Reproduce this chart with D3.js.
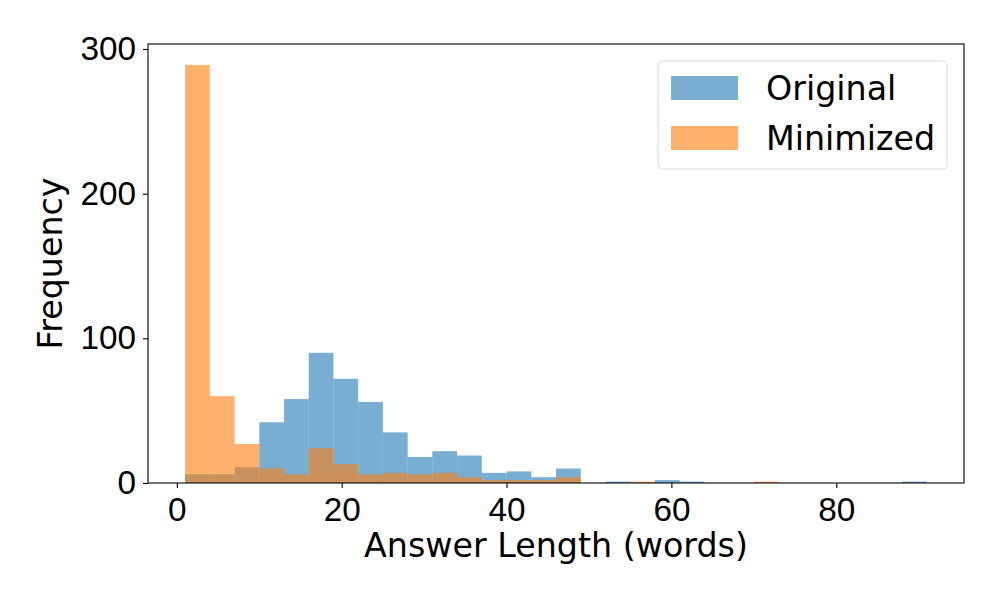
<!DOCTYPE html>
<html>
<head>
<meta charset="utf-8">
<script src="https://cdn.jsdelivr.net/npm/d3@7"></script>
<style>
    body { margin: 0; background: #fff; }
    svg { font-family: 'DejaVu Sans', sans-serif; }
</style>
</head>
<body>
<div id="chart"></div>
<script>
//Datos del histograma (bins compartidos de 3 palabras)
const binEdges = [1, 4, 7, 10, 13, 16, 19, 22, 25, 28, 31, 34, 37, 40, 43, 46, 49, 52, 55, 58, 61, 64, 67, 70, 73, 76, 79, 82, 85, 88, 91];
const originalCounts = [6, 6, 11, 42, 58, 90, 72, 56, 35, 18, 22, 19, 7, 8, 4, 10, 0, 1, 0, 2, 1, 0, 0, 0, 0, 0, 0, 0, 0, 1];
const minimizedCounts = [289, 60, 27, 10, 6, 24, 13, 6, 7, 6, 7, 4, 2, 2, 2, 4, 0, 0, 1, 0, 0, 0, 0, 1, 0, 0, 0, 0, 0, 0];
const seriesNames = ['Original', 'Minimized'];
const xTicks = [0, 20, 40, 60, 80];
const yTicks = [0, 100, 200, 300];

//Colores fijos (tab10 con alpha 0.6)
const COLOR_BLUE = '#1f77b4',
COLOR_ORANGE = '#ff7f0e';
const BAR_OPACITY = 0.6;
const FONT_SIZE = '33.3px';

let width = 1000,
    height = 600;
let margin = { top: 44, right: 36, bottom: 117, left: 148 };
let innerW = width - margin.left - margin.right,
    innerH = height - margin.top - margin.bottom;

let svg = d3.select('#chart')
    .append('svg')
        .attr('width', width)
        .attr('height', height);

let chart = svg.append('g')
    .attr('transform', 'translate(' + margin.left + ',' + margin.top + ')');

//Escalas con el margen del 5% como matplotlib
let xMin = binEdges[0], xMax = binEdges[binEdges.length - 1];
let xPad = (xMax - xMin) * 0.05;
let x = d3.scaleLinear()
    .domain([xMin - xPad, xMax + xPad])
    .range([0, innerW]);

let yMax = d3.max(originalCounts.concat(minimizedCounts)) * 1.05;
let y = d3.scaleLinear()
    .domain([0, yMax])
    .range([innerH, 0]);

function toBins(counts) {
    return counts.map(function(c, i) {
        return { x0: binEdges[i], x1: binEdges[i + 1], value: c };
    }).filter(function(d) { return d.value > 0; });
}

let series = [
    { name: seriesNames[0], color: COLOR_BLUE, bins: toBins(originalCounts) },
    { name: seriesNames[1], color: COLOR_ORANGE, bins: toBins(minimizedCounts) }
];

series.forEach(function(s) {
    chart.append('g')
        .selectAll('rect')
        .data(s.bins)
        .enter()
        .append('rect')
        .attr('x', function(d) { return x(d.x0); })
        .attr('width', function(d) { return x(d.x1) - x(d.x0); })
        .attr('y', function(d) { return y(d.value); })
        .attr('height', function(d) { return y(0) - y(d.value); })
        .attr('fill', s.color)
        .attr('fill-opacity', BAR_OPACITY);
});

//Ejes
let xAxis = chart.append('g')
    .attr('transform', 'translate(0,' + innerH + ')')
    .call(d3.axisBottom(x).tickValues(xTicks).tickSize(5).tickPadding(7).tickFormat(d3.format('d')));

let yAxis = chart.append('g')
    .call(d3.axisLeft(y).tickValues(yTicks).tickSize(5).tickPadding(7).tickFormat(d3.format('d')));

[xAxis, yAxis].forEach(function(a) {
    a.select('.domain').remove();
    a.selectAll('line').attr('stroke', '#000').attr('stroke-width', 1.1);
    a.selectAll('text').attr('fill', '#000').style('font-size', FONT_SIZE);
});
xAxis.selectAll('text').attr('dy', '0.78em');

//Marco
chart.append('rect')
    .attr('width', innerW)
    .attr('height', innerH)
    .attr('fill', 'none')
    .attr('stroke', '#000')
    .attr('stroke-width', 1.1);

//Títulos de los ejes
svg.append('text')
    .attr('x', margin.left + innerW / 2)
    .attr('y', 557)
    .attr('text-anchor', 'middle')
    .style('font-size', FONT_SIZE)
    .text('Answer Length (words)');

svg.append('text')
    .attr('transform', 'translate(62,' + (margin.top + innerH / 2) + ') rotate(-90)')
    .attr('text-anchor', 'middle')
    .style('font-size', FONT_SIZE)
    .text('Frequency');

//Leyenda
let legend = svg.append('g')
    .attr('transform', 'translate(658,61)');

legend.append('rect')
    .attr('width', 289)
    .attr('height', 108)
    .attr('rx', 4)
    .attr('fill', '#fff')
    .attr('fill-opacity', 0.8)
    .attr('stroke', '#d9d9d9')
    .attr('stroke-width', 1);

let items = legend.selectAll('.item')
    .data(series)
    .enter()
    .append('g')
    .attr('transform', function(d, i) { return 'translate(13,' + (15 + i * 50) + ')'; });

items.append('rect')
    .attr('width', 67)
    .attr('height', 24)
    .attr('fill', function(d) { return d.color; })
    .attr('fill-opacity', BAR_OPACITY);

items.append('text')
    .attr('x', 95)
    .attr('y', 12)
    .attr('dy', '0.35em')
    .style('font-size', FONT_SIZE)
    .text(function(d) { return d.name; });
</script>
</body>
</html>
